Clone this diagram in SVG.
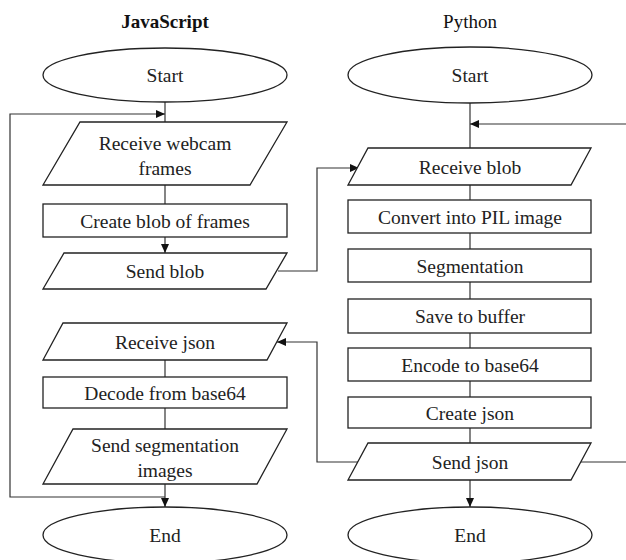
<svg xmlns="http://www.w3.org/2000/svg" width="626" height="560" viewBox="0 0 626 560">
<style>
.s{fill:#fff;stroke:#222;stroke-width:1.3}
.t{font-family:"Liberation Serif","Times New Roman",serif;font-size:19.5px;fill:#222;text-anchor:middle}
.h{font-family:"Liberation Serif","Times New Roman",serif;font-size:19px;fill:#111;text-anchor:middle}
.c{fill:none;stroke:#333;stroke-width:1.2}
</style>
<defs>
<marker id="a" markerUnits="userSpaceOnUse" markerWidth="10" markerHeight="8" refX="9" refY="4" orient="auto">
<path d="M0,0 L9,4 L0,8 Z" fill="#111"/>
</marker>
</defs>
<rect width="626" height="560" fill="#fff"/>
<g id="connectors">
<line class="c" x1="165" y1="102" x2="165" y2="122"/>
<line class="c" x1="165" y1="185" x2="165" y2="204"/>
<line class="c" x1="165" y1="237" x2="165" y2="253" marker-end="url(#a)"/>
<path class="c" d="M278,271 H317 V168 H359" marker-end="url(#a)"/>
<path class="c" d="M165,497 H10 V114 H165" marker-end="url(#a)"/>
<line class="c" x1="165" y1="360" x2="165" y2="377"/>
<line class="c" x1="165" y1="408" x2="165" y2="429"/>
<line class="c" x1="165" y1="484" x2="165" y2="507" marker-end="url(#a)"/>
<line class="c" x1="470" y1="103" x2="470" y2="148"/>
<line class="c" x1="470" y1="185" x2="470" y2="200"/>
<line class="c" x1="470" y1="233" x2="470" y2="249"/>
<line class="c" x1="470" y1="282" x2="470" y2="299"/>
<line class="c" x1="470" y1="333" x2="470" y2="348"/>
<line class="c" x1="470" y1="381" x2="470" y2="397"/>
<line class="c" x1="470" y1="428" x2="470" y2="443"/>
<line class="c" x1="470" y1="480" x2="470" y2="507" marker-end="url(#a)"/>
<path class="c" d="M358,462 H317 V342 H277" marker-end="url(#a)"/>
<path class="c" d="M581,462 H640 V124 H470" marker-end="url(#a)"/>
</g>
<text class="h" x="165" y="28" font-weight="bold">JavaScript</text>
<text class="h" x="470" y="28">Python</text>
<g id="js-start"><ellipse class="s" cx="165" cy="75" rx="122" ry="27"/><text class="t" x="165" y="82">Start</text></g>
<g id="js-receive-webcam"><path class="s" d="M80,122 H287 L250,185 H43 Z"/><text class="t" x="165" y="150">Receive webcam</text><text class="t" x="165" y="175">frames</text></g>
<g id="js-create-blob"><rect class="s" x="43" y="204" width="244" height="33"/><text class="t" x="165" y="227.5">Create blob of frames</text></g>
<g id="js-send-blob"><path class="s" d="M64,253 H287 L266,289 H43 Z"/><text class="t" x="165" y="278">Send blob</text></g>
<g id="js-receive-json"><path class="s" d="M63,323 H287 L267,360 H43 Z"/><text class="t" x="165" y="348.5">Receive json</text></g>
<g id="js-decode"><rect class="s" x="43" y="377" width="244" height="31"/><text class="t" x="165" y="399.5">Decode from base64</text></g>
<g id="js-send-seg"><path class="s" d="M73,429 H287 L257,484 H43 Z"/><text class="t" x="165" y="452">Send segmentation</text><text class="t" x="165" y="477">images</text></g>
<g id="js-end"><ellipse class="s" cx="165" cy="535" rx="122" ry="28"/><text class="t" x="165" y="542">End</text></g>
<g id="py-start"><ellipse class="s" cx="470" cy="75" rx="122" ry="28"/><text class="t" x="470" y="82">Start</text></g>
<g id="py-receive-blob"><path class="s" d="M368,148 H591 L571,185 H348 Z"/><text class="t" x="470" y="174">Receive blob</text></g>
<g id="py-convert"><rect class="s" x="348" y="200" width="243" height="33"/><text class="t" x="470" y="223.5">Convert into PIL image</text></g>
<g id="py-segmentation"><rect class="s" x="348" y="249" width="243" height="33"/><text class="t" x="470" y="272.5">Segmentation</text></g>
<g id="py-save"><rect class="s" x="348" y="299" width="243" height="34"/><text class="t" x="470" y="323">Save to buffer</text></g>
<g id="py-encode"><rect class="s" x="348" y="348" width="243" height="33"/><text class="t" x="470" y="371.5">Encode to base64</text></g>
<g id="py-create-json"><rect class="s" x="348" y="397" width="243" height="31"/><text class="t" x="470" y="419.5">Create json</text></g>
<g id="py-send-json"><path class="s" d="M368,443 H591 L571,480 H348 Z"/><text class="t" x="470" y="468.5">Send json</text></g>
<g id="py-end"><ellipse class="s" cx="470" cy="535" rx="122" ry="28"/><text class="t" x="470" y="542">End</text></g>
</svg>
